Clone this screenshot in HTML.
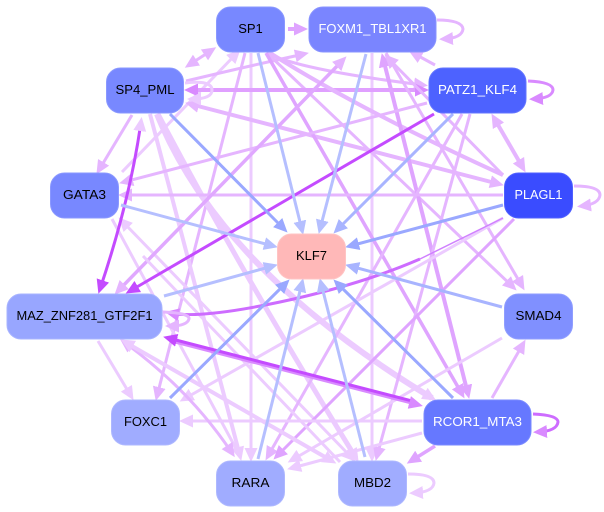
<!DOCTYPE html>
<html><head><meta charset="utf-8">
<style>
html,body{margin:0;padding:0;background:#fff;width:604px;height:512px;overflow:hidden}
svg{display:block}
text{font-family:"Liberation Sans",sans-serif;font-size:13px;text-anchor:middle}
path{fill:none;stroke-linecap:butt}
.a{stroke:#eccbff}.b{stroke:#e5b5ff}.c{stroke:#dfa4ff}.d{stroke:#d98aff}.e{stroke:#c44bff}
.p{stroke:#b5bfff}.q{stroke:#a8b4ff}.r{stroke:#9aa8ff}
.a.m{marker-end:url(#ma)}.b.m{marker-end:url(#mb)}.c.m{marker-end:url(#mc)}.d.m{marker-end:url(#md)}.e.m{marker-end:url(#me)}
.p.m{marker-end:url(#mp)}.q.m{marker-end:url(#mq)}.r.m{marker-end:url(#mr)}
.a.s{marker-start:url(#ma)}.b.s{marker-start:url(#mb)}.c.s{marker-start:url(#mc)}.d.s{marker-start:url(#md)}.e.s{marker-start:url(#me)}
</style></head><body>
<svg width="604" height="512" viewBox="0 0 604 512" xmlns="http://www.w3.org/2000/svg">
<defs>
<marker id="ma" markerUnits="userSpaceOnUse" markerWidth="15" markerHeight="14" refX="9" refY="6.500" orient="auto-start-reverse"><polygon points="0,0 14,6.500 0,13" fill="#eccbff"/></marker>
<marker id="mb" markerUnits="userSpaceOnUse" markerWidth="15" markerHeight="14" refX="9" refY="6.500" orient="auto-start-reverse"><polygon points="0,0 14,6.500 0,13" fill="#e5b5ff"/></marker>
<marker id="mc" markerUnits="userSpaceOnUse" markerWidth="15" markerHeight="14" refX="9" refY="6.500" orient="auto-start-reverse"><polygon points="0,0 14,6.500 0,13" fill="#dfa4ff"/></marker>
<marker id="md" markerUnits="userSpaceOnUse" markerWidth="15" markerHeight="14" refX="9" refY="6.500" orient="auto-start-reverse"><polygon points="0,0 14,6.500 0,13" fill="#d98aff"/></marker>
<marker id="me" markerUnits="userSpaceOnUse" markerWidth="15" markerHeight="14" refX="9" refY="6.500" orient="auto-start-reverse"><polygon points="0,0 14,6.500 0,13" fill="#c44bff"/></marker>
<marker id="mp" markerUnits="userSpaceOnUse" markerWidth="15" markerHeight="14" refX="9" refY="6.500" orient="auto-start-reverse"><polygon points="0,0 14,6.500 0,13" fill="#b5bfff"/></marker>
<marker id="mq" markerUnits="userSpaceOnUse" markerWidth="15" markerHeight="14" refX="9" refY="6.500" orient="auto-start-reverse"><polygon points="0,0 14,6.500 0,13" fill="#a8b4ff"/></marker>
<marker id="mr" markerUnits="userSpaceOnUse" markerWidth="15" markerHeight="14" refX="9" refY="6.500" orient="auto-start-reverse"><polygon points="0,0 14,6.500 0,13" fill="#9aa8ff"/></marker>
</defs>

<g stroke-width="3">
<!-- light and mid edges -->
<path class="a m" d="M251 53V457"/>
<path class="a m" d="M372 53V457"/>
<path class="a" d="M122 172L237 53" style="marker-end:url(#ma)"/>
<path class="b m" d="M245 53L157 396"/>
<path class="b m s" d="M189 65L212 50"/>
<path class="b m" d="M186 81Q240 68 304 54"/>
<path class="c m" d="M288 29H303" stroke-width="4"/>
<path class="b m" d="M267 53Q300 70 423 85"/>
<path class="b m" d="M267 53L513 287"/>
<path class="d m s" d="M189 90H424" stroke-width="4" style="stroke:#e0a0ff"/>
<path class="b m s" d="M190 104L499 184" stroke-width="4"/>
<path class="b" d="M270 53Q360 110 503 175" stroke-width="4"/>
<path class="c m" d="M266 53L462 394" stroke-width="3.500"/>
<path class="c m s" d="M383 58L468 394" stroke-width="4"/>
<path class="b m" d="M132 115L99 170"/>
<path class="a m" d="M150 114L240 456" stroke-width="4"/>
<path class="a m" d="M158 114Q240 270 356 458" stroke-width="5"/>
<path class="a m" d="M157 114Q220 270 432 398" stroke-width="6"/>
<path class="b m" d="M427 103L124 182"/>
<path class="b m" d="M503 195H123"/>
<path class="a" d="M112 219L240 456"/>
<path class="a m s" d="M122 221L352 458"/>
<path class="b m s" d="M343 60L118 291" stroke-width="3.500" style="stroke:#e0a8ff"/>
<path class="b m" d="M462 114L268 456"/>
<path class="b m" d="M470 114L377 456"/>
<path class="b m" d="M435 65L413 53"/>
<path class="b m s" d="M494 118L523 168" stroke-width="4"/>
<path class="b m" d="M386 53L522 286"/>
<path class="b s" d="M388 58L503 175"/>
<path class="c m" d="M514 219L277 456"/>
<path class="a m" d="M503 218L184 399"/>
<path class="a m" d="M502 338L292 460"/>
<path class="a m" d="M422 421H184"/>
<path class="a m" d="M422 433L292 468"/>
<path class="c m" d="M435 446L411 461" stroke-width="3.500"/>
<path class="b m" d="M492 398L523 344"/>
<path class="a m" d="M98 341L131 396"/>
<path class="b m s" d="M124 342Q190 390 232 453" stroke-width="3"/>
<path class="a m s" d="M125 342L332 461" stroke-width="4"/>
<path class="a" d="M143 256L340 462"/>
<!-- purple -->
<path class="e" d="M141 122Q130 200 100 289" stroke-width="3" style="marker-start:url(#ma);marker-end:url(#me)"/>
<path class="e m" d="M434 114L130 291" stroke-width="3"/>
<path d="M503 218L420 259" stroke="#d080ff" stroke-width="1.500"/>
<path class="m" d="M420 259Q360 285 280 302T170 313" stroke="#cd6cff" stroke-width="3" style="marker-end:url(#md)"/>
<path class="d m" d="M175 342L418 404.700" stroke-width="3"/>
<path class="e s" d="M168 338L410 400.400" stroke-width="3"/>
<!-- blue -->
<path class="p m" d="M258 53L302 230"/>
<path class="r m" d="M170 114L284 229"/>
<path class="p m" d="M121 205L273 246"/>
<path class="p m" d="M366 54L320 229"/>
<path class="q m" d="M453 114L337 230"/>
<path class="r m" d="M503 205L350 246"/>
<path class="q m" d="M502 307L350 266"/>
<path class="r m" d="M453 398L337 283"/>
<path class="p m" d="M365 457L321 283"/>
<path class="p m" d="M258 459L302 283"/>
<path class="r m" d="M170 398L286 283"/>
<path class="p m" d="M164 296L273 266"/>
<!-- self loops -->
<path class="a m" d="M185 83Q212 80 212 90Q212 99 192 99"/>
<path class="b m" d="M437 20Q462 20 463 29Q462 38 444 39"/>
<path class="d m" d="M528 81Q553 82 553 90Q552 98 534 99"/>
<path class="b m" d="M574 186Q600 186 600 195Q599 204 582 206"/>
<path class="d m" d="M533 414Q558 415 558 422Q557 431 538 432" style="stroke:#cd6cff"/>
<path class="a m" d="M408 474Q434 474 434 483Q433 492 414 493"/>
<path class="b m" d="M163 312Q190 313 189 319Q187 326 170 326"/>
</g>

<g stroke-width="1">
<rect x="216.500" y="7" width="68" height="45" rx="14" fill="#7888ff" stroke="#8a98ff"/>
<rect x="309" y="7" width="127" height="45" rx="14" fill="#7a85ff" stroke="#8a94ff"/>
<rect x="429" y="68" width="97" height="45" rx="14" fill="#4d62ff" stroke="#6476ff"/>
<rect x="504.500" y="173" width="68" height="45" rx="14" fill="#3a4cff" stroke="#5060ff"/>
<rect x="504.500" y="294" width="68" height="45" rx="14" fill="#8090ff" stroke="#909eff"/>
<rect x="424" y="400" width="107" height="45" rx="14" fill="#6678ff" stroke="#7a8aff"/>
<rect x="338.500" y="461" width="68" height="45" rx="14" fill="#a0acff" stroke="#aeb8ff"/>
<rect x="216.500" y="461" width="68" height="45" rx="14" fill="#a0acff" stroke="#aeb8ff"/>
<rect x="111.500" y="400" width="68" height="45" rx="14" fill="#a0acff" stroke="#aeb8ff"/>
<rect x="7" y="294" width="155" height="45" rx="14" fill="#98a6ff" stroke="#a8b4ff"/>
<rect x="50.500" y="173" width="68" height="45" rx="14" fill="#7888ff" stroke="#8a98ff"/>
<rect x="106.500" y="68" width="77" height="45" rx="14" fill="#7888ff" stroke="#8a98ff"/>
<rect x="277.500" y="234" width="68" height="45" rx="14" fill="#ffb8b8" stroke="#ffc4c4"/>
</g>

<text x="250.500" y="33" fill="#000">SP1</text>
<text x="372.500" y="33" fill="#fff" textLength="108" lengthAdjust="spacingAndGlyphs">FOXM1_TBL1XR1</text>
<text x="477.500" y="94" fill="#fff" textLength="79" lengthAdjust="spacingAndGlyphs">PATZ1_KLF4</text>
<text x="538.500" y="199" fill="#fff" textLength="48" lengthAdjust="spacingAndGlyphs">PLAGL1</text>
<text x="538.500" y="320" fill="#000" textLength="46" lengthAdjust="spacingAndGlyphs">SMAD4</text>
<text x="477.500" y="426" fill="#fff" textLength="89" lengthAdjust="spacingAndGlyphs">RCOR1_MTA3</text>
<text x="372.500" y="487" fill="#000" textLength="37" lengthAdjust="spacingAndGlyphs">MBD2</text>
<text x="250.500" y="487" fill="#000" textLength="38" lengthAdjust="spacingAndGlyphs">RARA</text>
<text x="145.500" y="426" fill="#000" textLength="43" lengthAdjust="spacingAndGlyphs">FOXC1</text>
<text x="84.500" y="320" fill="#000" textLength="136" lengthAdjust="spacingAndGlyphs">MAZ_ZNF281_GTF2F1</text>
<text x="84.500" y="199" fill="#000" textLength="43" lengthAdjust="spacingAndGlyphs">GATA3</text>
<text x="145" y="94" fill="#000" textLength="59" lengthAdjust="spacingAndGlyphs">SP4_PML</text>
<text x="311.500" y="260" fill="#000" textLength="31" lengthAdjust="spacingAndGlyphs">KLF7</text>
</svg>
</body></html>
